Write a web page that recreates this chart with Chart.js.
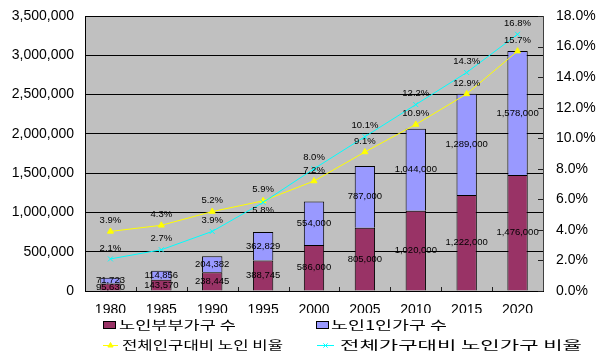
<!DOCTYPE html>
<html><head><meta charset="utf-8">
<script src="https://cdn.jsdelivr.net/npm/chart.js"></script>
<style>
body{margin:0;background:#fff;}
#wrap{position:relative;width:606px;height:353px;overflow:hidden;}
#c{position:absolute;left:0;top:0;}
.lt{position:absolute;font-family:"Noto Sans CJK KR";font-size:12.5px;line-height:14px;white-space:nowrap;transform-origin:0 50%;color:#000;}
.lb{position:absolute;box-sizing:border-box;border:1px solid #000;}
.lc{position:absolute;}
</style></head>
<body><div id="wrap"><canvas id="c" width="606" height="353"></canvas><div id="legend"></div></div>
<script>
const years = ['1980','1985','1990','1995','2000','2005','2010','2015','2020'];
const coupleHouseholds = [95630,143570,238445,388745,586000,805000,1020000,1222000,1476000];
const singleHouseholds = [71723,114856,204382,362829,554000,787000,1044000,1289000,1578000];
const elderlyPopRatio = [3.9,4.3,5.2,5.9,7.2,9.1,10.9,12.9,15.7];
const elderlyHouseholdRatio = [2.1,2.7,3.9,5.8,8.0,10.1,12.2,14.3,16.8];
const seriesNames = ['노인부부가구 수','노인1인가구 수','전체인구대비 노인 비율','전체가구대비 노인가구 비율'];
const leftAxisMax = 3500000, leftAxisStep = 500000;
const rightAxisMax = 18, rightAxisStep = 2;

const FONT = 'Liberation Sans, Arial, sans-serif';
const colors = ['#993366','#9999ff','#ffff00','#00ffff'];

const bgPlugin = {
  id:'bg',
  beforeDraw(chart){
    const {ctx, chartArea:a} = chart;
    ctx.save(); ctx.fillStyle='#c0c0c0';
    ctx.fillRect(a.left,a.top,a.right-a.left,a.bottom-a.top);
    ctx.restore();
  },
  afterDraw(chart){
    const {ctx, chartArea:a, scales} = chart;
    ctx.save();
    ctx.strokeStyle='#202020'; ctx.lineWidth=1;
    const y1 = scales.y1;
    y1.ticks.forEach(t=>{
      const py = Math.round(y1.getPixelForValue(t.value))+0.5;
      ctx.beginPath(); ctx.moveTo(a.right-5,py); ctx.lineTo(a.right,py); ctx.stroke();
    });
    const x = scales.x;
    for(let i=1;i<years.length;i++){
      const px = Math.round((x.getPixelForValue(i-1)+x.getPixelForValue(i))/2)+0.5;
      ctx.beginPath(); ctx.moveTo(px,a.bottom); ctx.lineTo(px,a.bottom-4); ctx.stroke();
    }
    ctx.strokeStyle='#404040';
    ctx.beginPath(); ctx.moveTo(a.right+0.5,a.top); ctx.lineTo(a.right+0.5,a.bottom); ctx.stroke();
    // the reference's category labels are cut off at the bottom
    ctx.fillStyle='#fff';
    ctx.fillRect(a.left, 313, a.right-a.left+10, 7);
    ctx.restore();
  }
};

const labelPlugin = {
  id:'vlabels',
  afterDatasetsDraw(chart){
    const ctx = chart.ctx;
    ctx.save();
    ctx.font = '9.5px '+FONT;
    ctx.fillStyle = '#000';
    ctx.textAlign = 'center';
    ctx.textBaseline = 'middle';
    [0,1].forEach(di=>{
      const meta = chart.getDatasetMeta(di);
      meta.data.forEach((el,i)=>{
        const p = el.getProps(['x','y','base'],true);
        const v = chart.data.datasets[di].data[i];
        ctx.fillText(v.toLocaleString('en-US'), p.x, (p.y+p.base)/2);
      });
    });
    const m2 = chart.getDatasetMeta(2), m3 = chart.getDatasetMeta(3);
    m2.data.forEach((el,i)=>{
      ctx.fillText(elderlyPopRatio[i].toFixed(1)+'%', el.x, el.y-11);
    });
    m3.data.forEach((el,i)=>{
      const other = m2.data[i];
      const below = Math.abs(other.y-el.y) < 10;
      ctx.fillText(elderlyHouseholdRatio[i].toFixed(1)+'%', el.x, below ? el.y+8 : el.y-11);
    });
    ctx.restore();
  }
};

function fitY(w){ return s=>{ s.width = w; s.paddingTop = 0; s.paddingBottom = 0; }; }

const chart = new Chart(document.getElementById('c'), {
  type:'bar',
  data:{
    labels: years,
    datasets:[
      {label:seriesNames[0], data:coupleHouseholds, backgroundColor:colors[0], borderColor:'#000', borderWidth:1, stack:'s', yAxisID:'y', barPercentage:0.4, categoryPercentage:1, order:2},
      {label:seriesNames[1], data:singleHouseholds, backgroundColor:colors[1], borderColor:'#000', borderWidth:1, stack:'s', yAxisID:'y', barPercentage:0.4, categoryPercentage:1, order:2},
      {type:'line', label:seriesNames[2], data:elderlyPopRatio, borderColor:colors[2], backgroundColor:colors[2], borderWidth:1, pointStyle:'triangle', pointRadius:3.5, pointBorderWidth:1, pointBackgroundColor:colors[2], pointBorderColor:colors[2], yAxisID:'y1', tension:0, order:1},
      {type:'line', label:seriesNames[3], data:elderlyHouseholdRatio, borderColor:colors[3], backgroundColor:colors[3], borderWidth:1, pointStyle:'crossRot', pointRadius:3.5, pointBorderWidth:1, pointBorderColor:colors[3], yAxisID:'y1', tension:0, order:0}
    ]
  },
  options:{
    responsive:false, animation:false, devicePixelRatio:1,
    layout:{padding:{top:16,left:0,right:0,bottom:0}},
    plugins:{legend:{display:false}, tooltip:{enabled:false}},
    scales:{
      x:{stacked:true, grid:{display:false}, border:{display:true,color:'#000'},
         ticks:{font:{family:FONT,size:14}, color:'#000', padding:3, maxRotation:0, autoSkip:false},
         afterFit(s){ s.height = 62; }},
      y:{stacked:true, min:0, max:leftAxisMax, position:'left',
         ticks:{stepSize:leftAxisStep, font:{family:FONT,size:14}, color:'#000', padding:11,
                callback:v=>v.toLocaleString('en-US')},
         grid:{color:'#000', drawTicks:false}, border:{color:'#000'},
         afterFit: fitY(85)},
      y1:{min:0, max:rightAxisMax, position:'right',
         ticks:{stepSize:rightAxisStep, font:{family:FONT,size:14}, color:'#000', padding:13,
                callback:v=>v.toFixed(1)+'%'},
         grid:{drawOnChartArea:false, drawTicks:false}, border:{display:false},
         afterFit: fitY(63)}
    }
  },
  plugins:[bgPlugin,labelPlugin]
});

const leg = document.getElementById('legend');
const slots = [{x:103,y:325,tx:119,w:117},{x:316,y:325,tx:331,w:116},{x:103,y:345,tx:122,w:161},{x:317,y:345,tx:340,w:242}];
chart.data.datasets.forEach((ds,i)=>{
  const s = slots[i];
  if(ds.type==='line'){
    const w = i===2 ? 15 : 17;
    const cv = document.createElement('canvas');
    cv.width = w; cv.height = 9; cv.className='lc';
    cv.style.left = s.x+'px'; cv.style.top = (s.y-4)+'px';
    const c = cv.getContext('2d');
    c.strokeStyle = ds.borderColor; c.lineWidth=1;
    c.beginPath(); c.moveTo(0,4.5); c.lineTo(w,4.5); c.stroke();
    c.fillStyle = ds.borderColor;
    Chart.helpers.drawPoint(c,{pointStyle:ds.pointStyle,radius:3,borderWidth:1,rotation:0},w/2,4.5);
    leg.appendChild(cv);
  } else {
    const b = document.createElement('div');
    b.className='lb'; b.style.left=s.x+'px'; b.style.top=(s.y-4)+'px';
    b.style.width='13px'; b.style.height='8px'; b.style.background=ds.backgroundColor;
    leg.appendChild(b);
  }
  const t = document.createElement('div');
  t.className='lt'; t.textContent = ds.label;
  t.style.left = s.tx+'px'; t.style.top = (s.y-7)+'px';
  leg.appendChild(t);
  const nw = t.getBoundingClientRect().width;
  t.style.transform = 'scaleX('+(s.w/nw)+')';
});
</script>
</body></html>
